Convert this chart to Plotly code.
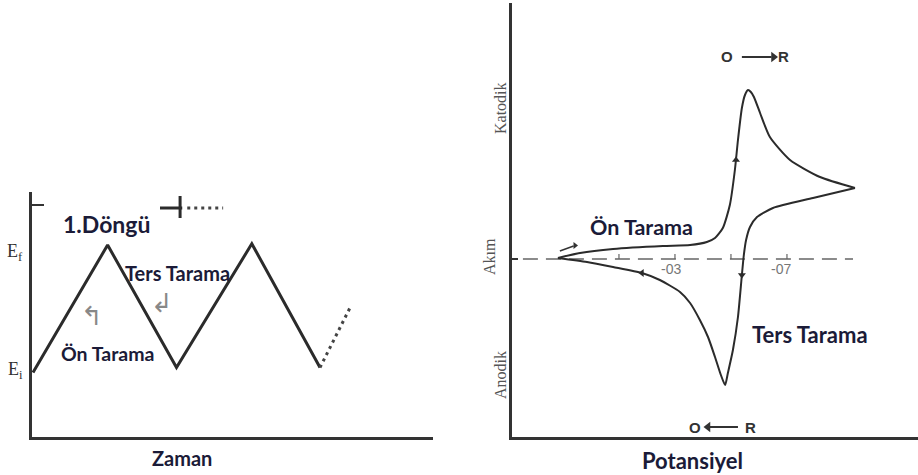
import plotly.graph_objects as go

# ---------------- left panel: triangular potential waveform ----------------
cycle_time = [0.0, 1.04, 2.0, 3.05, 4.0]
cycle_potential = [-0.02, 1.0, 0.02, 1.01, 0.02]
next_time = [4.0, 4.42]
next_potential = [0.02, 0.50]

# ---------------- right panel: cyclic voltammogram ----------------
fwd_potential = [0.118, 0.039, -0.079, -0.257, -0.354, -0.414, -0.443, -0.471, -0.496,
                 -0.514, -0.525, -0.539, -0.550, -0.561, -0.571, -0.582, -0.604,
                 -0.639, -0.711, -0.818, -0.943]
fwd_current = [0.1, 0.6, 1.0, 1.3, 1.4, 1.7, 2.1, 3.1, 5.4, 8.9, 11.9, 15.1, 16.4,
               16.9, 16.7, 16.2, 14.6, 12.2, 9.9, 8.2, 7.1]
rev_potential = [-0.943, -0.793, -0.650, -0.593, -0.568, -0.554, -0.546, -0.539,
                 -0.525, -0.507, -0.489, -0.479, -0.464, -0.443, -0.418, -0.389,
                 -0.354, -0.318, -0.246, -0.182, -0.079, 0.014, 0.118]
rev_current = [7.1, 6.1, 5.1, 4.2, 3.2, 1.9, 0.4, -1.6, -5.8, -9.1, -11.4, -12.6,
               -11.6, -9.8, -7.8, -6.1, -4.4, -3.3, -2.1, -1.4, -0.8, -0.3, 0.1]
zero_line_potential = [0.243, -0.936]
tick_potentials = [-0.1, -0.3, -0.5, -0.7]
tick_labels = ["-03", "-07"]
tick_label_potentials = [-0.286, -0.68]

INK = "#2b2b2b"
TEXT = "#1b1b38"
BOLD_FONT = "Lato"

fig = go.Figure()


def line(x, y, axes, color=INK, width=2.0, dash=None, shape="linear"):
    xa, ya = axes
    fig.add_trace(go.Scatter(x=x, y=y, mode="lines",
                             line=dict(color=color, width=width, dash=dash, shape=shape,
                                       smoothing=0.6 if shape == "spline" else None),
                             xaxis=xa, yaxis=ya, hoverinfo="skip"))


def heads(x, y, symbols, axes, size=7, color=INK):
    xa, ya = axes
    fig.add_trace(go.Scatter(x=x, y=y, mode="markers",
                             marker=dict(symbol=symbols, size=size, color=color),
                             xaxis=xa, yaxis=ya, hoverinfo="skip"))


LEFT = ("x", "y")
RIGHT = ("x2", "y2")

# waveform and its dotted continuation
line(cycle_time, cycle_potential, LEFT, width=3)
line(next_time, next_potential, LEFT, color="#444", width=3, dash="3px,4px")
# small key mark: solid stub with cross bar, then dotted
line([1.77, 2.08, None, 2.05, 2.05], [1.296, 1.296, None, 1.216, 1.392], LEFT, width=3)
line([2.15, 2.65], [1.296, 1.296], LEFT, color="#444", width=3, dash="3px,4px")

# voltammogram
line(zero_line_potential, [0, 0], RIGHT, color="#666", width=1.5, dash="15px,8px")
tx, ty = [], []
for p in tick_potentials:
    tx += [p, p, None]
    ty += [0, 0.5, None]
line(tx, ty, RIGHT, color="#666", width=1.2)
line(fwd_potential, fwd_current, RIGHT, width=2, shape="spline")
line(rev_potential, rev_current, RIGHT, width=2, shape="spline")
heads([-0.518, -0.539, -0.182], [9.9, -1.6, -1.4],
      ["triangle-up", "triangle-down", "triangle-left"], RIGHT)

# O -> R / O <- R arrows and the small start arrow
line([-0.539, -0.645], [20.2, 20.2], RIGHT, color="#333", width=2)
heads([-0.652], [20.2], ["triangle-right"], RIGHT, size=9, color="#333")
line([-0.525, -0.425], [-16.8, -16.8], RIGHT, color="#333", width=2)
heads([-0.418], [-16.8], ["triangle-left"], RIGHT, size=9, color="#333")
line([0.111, 0.062], [0.8, 1.3], RIGHT, color="#333", width=1.5)
heads([0.057], [1.35], ["triangle-right"], RIGHT, size=6, color="#333")

ann = []


def label(text, x, y, size, xref="x", yref="y", color=TEXT, family=BOLD_FONT, angle=0):
    ann.append(dict(text=text, x=x, y=y, xref=xref, yref=yref, showarrow=False,
                    textangle=angle, font=dict(family=family, size=size, color=color),
                    xanchor="center", yanchor="middle"))


# left panel text
label("<b>1.Döngü</b>", 1.031, 1.168, 23)
label("<b>Ters Tarama</b>", 2.02, 0.776, 20)
label("<b>Ön Tarama</b>", 1.045, 0.136, 19.5)
label("<b>Zaman</b>", 182 / 918, 1 - 458 / 475, 20, xref="paper", yref="paper")
label("↰", 0.822, 0.432, 26, color="#888", family="DejaVu Sans")
label("↲", 1.798, 0.536, 26, color="#888", family="DejaVu Sans")
label("E<sub>f</sub>", 15 / 918, 0.944, 18, xref="paper", color="#333", family="Liberation Serif")
label("E<sub>i</sub>", 15 / 918, 0.0, 18, xref="paper", color="#333", family="Liberation Serif")

# right panel text
label("<b>Ön Tarama</b>", -0.179, 3.2, 21.5, xref="x2", yref="y2")
label("<b>Ters Tarama</b>", -0.782, -7.5, 22, xref="x2", yref="y2")
label("<b>Potansiyel</b>", 692 / 918, 1 - 460 / 475, 22, xref="paper", yref="paper")
for t, p in zip(tick_labels, tick_label_potentials):
    label(t, p, -1.0, 14, xref="x2", yref="y2", color="#777", family="Liberation Sans")
label("Katodik", 501 / 918, 15.1, 16, xref="paper", yref="y2", color="#555",
      family="Liberation Serif", angle=-90)
label("Akım", 490 / 918, 0.3, 16, xref="paper", yref="y2", color="#555",
      family="Liberation Serif", angle=-90)
label("Anodik", 500 / 918, -11.6, 16, xref="paper", yref="y2", color="#555",
      family="Liberation Serif", angle=-90)
label("<b>O</b>", -0.486, 20.2, 15, xref="x2", yref="y2", color="#333", family="Liberation Sans")
label("<b>R</b>", -0.686, 20.2, 15, xref="x2", yref="y2", color="#333", family="Liberation Sans")
label("<b>O</b>", -0.371, -16.8, 15, xref="x2", yref="y2", color="#333", family="Liberation Sans")
label("<b>R</b>", -0.568, -16.8, 15, xref="x2", yref="y2", color="#333", family="Liberation Sans")

fig.update_layout(
    width=918, height=475, margin=dict(l=0, r=0, t=0, b=0),
    paper_bgcolor="white", plot_bgcolor="white", showlegend=False,
    annotations=ann,
    xaxis=dict(domain=[32 / 918, 433 / 918], range=[-0.0139, 5.575], showline=True,
               linewidth=3, linecolor="#333", showgrid=False, zeroline=False,
               showticklabels=False, ticks=""),
    yaxis=dict(domain=[0.08, 1 - 192 / 475], range=[-0.536, 1.424], showline=True,
               linewidth=3, linecolor="#333", showgrid=False, zeroline=False,
               showticklabels=False, tickvals=[1.32], ticks="inside", ticklen=12,
               tickwidth=2, tickcolor="#333"),
    xaxis2=dict(domain=[512 / 918, 1.0], range=[0.282, -1.168], anchor="y2", showline=True,
                linewidth=3, linecolor="#333", showgrid=False, zeroline=False,
                showticklabels=False, ticks=""),
    yaxis2=dict(domain=[0.08, 1 - 3 / 475], range=[-17.8, 25.6], anchor="x2", showline=True,
                linewidth=3, linecolor="#333", showgrid=False, zeroline=False,
                showticklabels=False, tickvals=[0], ticks="inside", ticklen=6,
                tickwidth=1.5, tickcolor="#333"),
)

fig.write_html("out.html")
